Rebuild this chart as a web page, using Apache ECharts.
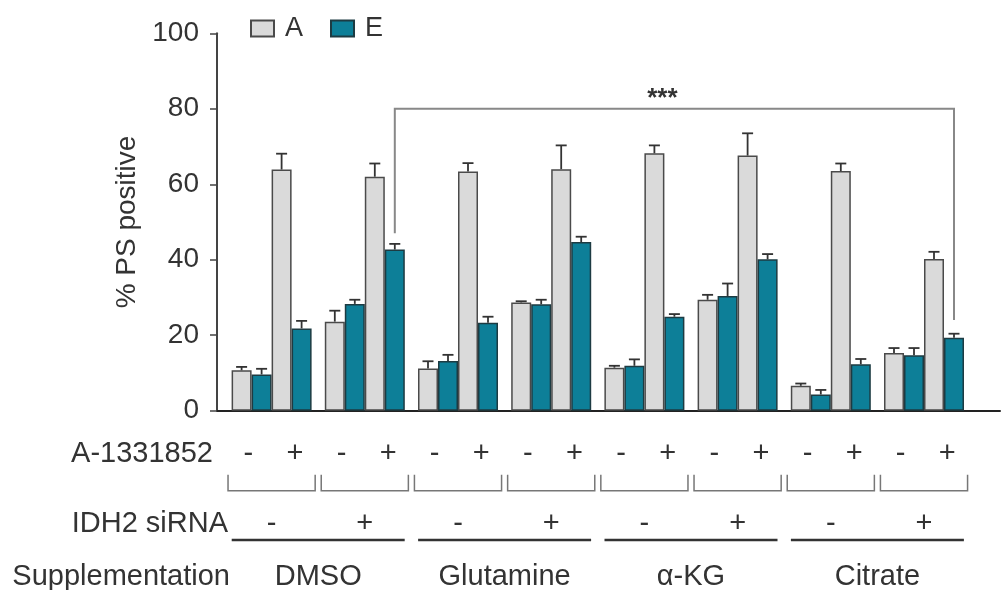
<!DOCTYPE html>
<html><head><meta charset="utf-8">
<script src="https://cdn.jsdelivr.net/npm/echarts@6/dist/echarts.min.js"></script>
<style>html,body{margin:0;padding:0;background:#fff}#c{width:1001px;height:590px}</style>
</head><body><div id="c"></div>
<script>
// ---- data ----
const groups = ['DMSO siRNA-', 'DMSO siRNA+', 'Glutamine siRNA-', 'Glutamine siRNA+',
                'α-KG siRNA-', 'α-KG siRNA+', 'Citrate siRNA-', 'Citrate siRNA+'];
const drugLabels = ['-', '+', '-', '+', '-', '+', '-', '+', '-', '+', '-', '+', '-', '+', '-', '+'];
const sirnaLabels = ['-', '+', '-', '+', '-', '+', '-', '+'];
const supplements = ['DMSO', 'Glutamine', 'α-KG', 'Citrate'];
const yMin = 0, yMax = 100, yStep = 20;

// A-1331852 "-" then "+" within each group; A and E cells
const aMinus = [10.7, 23.6, 11.2, 28.7, 11.4, 29.4, 6.6, 15.3];
const eMinus = [9.6, 28.3, 13.2, 28.2, 11.9, 30.4, 4.3, 14.7];
const aPlus  = [63.9, 62.0, 63.4, 64.0, 68.2, 67.6, 63.5, 40.2];
const ePlus  = [21.8, 42.7, 23.3, 44.7, 24.9, 40.1, 12.3, 19.3];
const aMinusErr = [0.9, 2.9, 1.9, 0.3, 0.5, 1.3, 0.6, 1.3];
const eMinusErr = [1.5, 1.1, 1.6, 1.2, 1.7, 3.3, 1.2, 1.9];
const aPlusErr  = [4.2, 3.5, 2.2, 6.3, 2.1, 5.9, 2.0, 1.9];
const ePlusErr  = [2.0, 1.5, 1.6, 1.4, 0.7, 1.4, 1.4, 1.1];

// significance bracket: [group, slot] endpoints, bracket height, leg ends
const sigFrom = [1, 3];
const sigTo = [7, 3];
const sigY = 80;
const sigEnds = [47, 24];
const sigLabel = '***';

// ---- chart ----
const FONT = '"Liberation Sans", Arial, sans-serif';
const TXT = '#333';
const BAR_W = 20;
const colA = '#dadada', colE = '#0d7f98';
const LBL = 29;

const valueSets = [aMinus, eMinus, aPlus, ePlus];
const errSets = [aMinusErr, eMinusErr, aPlusErr, ePlusErr];
const errData = [];
valueSets.forEach((vals, slot) => vals.forEach((v, i) => errData.push([i, v, errSets[slot][i], slot])));

function barSeries(name, data, color, border) {
  return {
    type: 'bar', name, data, xAxisIndex: 0, yAxisIndex: 0,
    barWidth: BAR_W, barGap: '0%',
    itemStyle: { color, borderColor: border, borderWidth: 1.5 },
    emphasis: { disabled: true }, animation: false
  };
}

function rowAxis(data, offset, name, gap) {
  return { gridIndex: 0, type: 'category', data, position: 'bottom', offset,
    axisLine: { show: false }, axisTick: { show: false },
    axisLabel: { interval: 0, margin: 0, verticalAlign: 'middle', fontSize: LBL, color: TXT },
    name, nameLocation: 'start', nameGap: gap,
    nameTextStyle: { fontSize: LBL, color: TXT } };
}

const option = {
  animation: false,
  textStyle: { fontFamily: FONT },
  legend: {
    data: ['A', 'E'], left: 245, top: 10, icon: 'rect',
    itemWidth: 23, itemHeight: 16, itemGap: 27,
    textStyle: { fontSize: 27, color: TXT, fontFamily: FONT, padding: [0, 0, 0, 6] },
    selectedMode: false
  },
  grid: [
    { left: 225, width: 745.6, top: 33.3, bottom: 179.3, containLabel: false, outerBoundsMode: 'none' },
    { left: 217, right: 1, top: 33.3, bottom: 179.3, containLabel: false, outerBoundsMode: 'none' }
  ],
  xAxis: [
    { gridIndex: 0, type: 'category', data: groups, show: false },
    rowAxis(drugLabels, 43, 'A-1331852', 12),
    rowAxis(sirnaLabels, 113, 'IDH2 siRNA', -3),
    rowAxis(supplements, 166, 'Supplementation', -5),
    { gridIndex: 1, type: 'value', min: 0, max: 1,
      axisLine: { show: true, lineStyle: { color: '#222', width: 2 } },
      axisTick: { show: false }, axisLabel: { show: false }, splitLine: { show: false } }
  ],
  yAxis: [
    { gridIndex: 0, type: 'value', min: yMin, max: yMax, interval: yStep, show: false },
    { gridIndex: 1, type: 'value', min: yMin, max: yMax, interval: yStep,
      axisLine: { show: true, lineStyle: { color: '#444', width: 2 } },
      axisTick: { show: true, length: 7, lineStyle: { color: '#444', width: 1.5 } },
      axisLabel: { fontSize: 28, color: TXT, margin: 18 },
      splitLine: { show: false },
      name: '% PS positive', nameLocation: 'middle', nameRotate: 90, nameGap: 76,
      nameTextStyle: { fontSize: 28, color: TXT } }
  ],
  series: [
    barSeries('A', aMinus, colA, '#4a4a4a'),
    barSeries('E', eMinus, colE, '#1d3b42'),
    barSeries('A', aPlus, colA, '#4a4a4a'),
    barSeries('E', ePlus, colE, '#1d3b42'),
    {
      type: 'custom', name: 'err', xAxisIndex: 0, yAxisIndex: 0, z: 5, clip: false,
      data: errData, encode: { x: 0, y: 1 },
      renderItem(params, api) {
        const cat = api.value(0), v = api.value(1), e = api.value(2), slot = api.value(3);
        const p = api.coord([cat, v]);
        const t = api.coord([cat, v + e]);
        const x = p[0] + (slot - 1.5) * BAR_W;
        const st = { stroke: '#333', lineWidth: 1.8, fill: null };
        return { type: 'group', children: [
          { type: 'line', shape: { x1: x, y1: p[1], x2: x, y2: t[1] }, style: st },
          { type: 'line', shape: { x1: x - 5.5, y1: t[1], x2: x + 5.5, y2: t[1] }, style: st }
        ]};
      }
    },
    {
      type: 'custom', name: 'sig', xAxisIndex: 0, yAxisIndex: 0, z: 5, clip: false,
      data: [[sigFrom[0], sigFrom[1], sigTo[0], sigTo[1], sigY, sigEnds[0], sigEnds[1]]],
      renderItem(params, api) {
        const xl = api.coord([api.value(0), 0])[0] + (api.value(1) - 1.5) * BAR_W;
        const xr = api.coord([api.value(2), 0])[0] + (api.value(3) - 1.5) * BAR_W;
        const yt = api.coord([0, api.value(4)])[1];
        const yl = api.coord([0, api.value(5)])[1];
        const yr = api.coord([0, api.value(6)])[1];
        return { type: 'group', children: [
          { type: 'polyline', shape: { points: [[xl, yl], [xl, yt], [xr, yt], [xr, yr]] },
            style: { stroke: '#888', lineWidth: 2, fill: null } },
          { type: 'text', x: (xl + xr) / 2 - 12, y: yt + 3,
            style: { text: sigLabel, fontSize: 26, fontWeight: 'bold', fill: '#333',
                     fontFamily: FONT, align: 'center', verticalAlign: 'bottom' } }
        ]};
      }
    },
    {
      type: 'custom', name: 'brackets', xAxisIndex: 0, yAxisIndex: 0, clip: false,
      data: groups.map((g, i) => [i]),
      renderItem(params, api) {
        const c = api.coord([api.value(0), 0]);
        const band = api.size([1, 0])[0];
        const w = band * 0.935;
        const x0 = c[0] - w / 2, x1 = c[0] + w / 2;
        const y0 = c[1] + 64, y1 = c[1] + 80;
        return { type: 'polyline', shape: { points: [[x0, y0], [x0, y1], [x1, y1], [x1, y0]] },
                 style: { stroke: '#777', lineWidth: 1.5, fill: null } };
      }
    },
    {
      type: 'custom', name: 'suppLines', xAxisIndex: 0, yAxisIndex: 0, clip: false,
      data: supplements.map((s, k) => [2 * k, 2 * k + 1]),
      renderItem(params, api) {
        const a = api.coord([api.value(0), 0]);
        const b = api.coord([api.value(1), 0]);
        const band = api.size([1, 0])[0];
        const y = a[1] + 129.3;
        return { type: 'line', shape: { x1: a[0] - band / 2 + 6.7, y1: y, x2: b[0] + band / 2 - 6.7, y2: y },
                 style: { stroke: '#333', lineWidth: 2.5 } };
      }
    }
  ]
};
const chart = echarts.init(document.getElementById('c'), null, { renderer: 'canvas' });
chart.setOption(option);
</script>
</body></html>
